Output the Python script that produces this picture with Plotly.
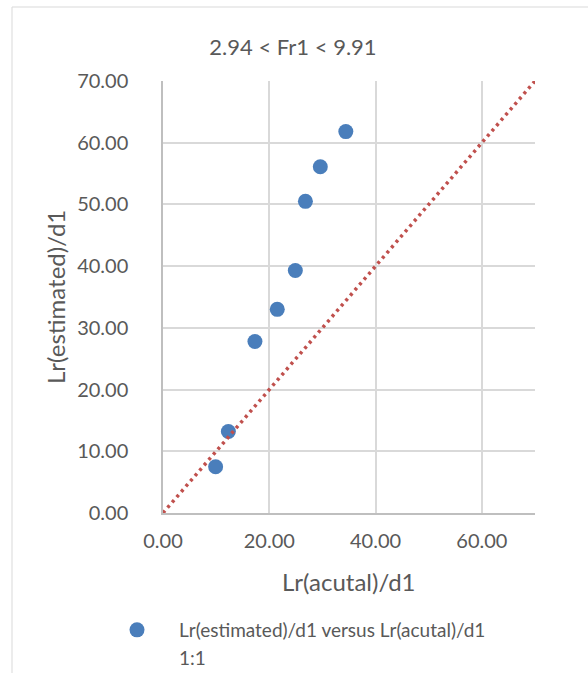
import plotly.graph_objects as go

# Measured vs. estimated roller length ratios
lr_actual = [34.4, 29.6, 26.8, 24.9, 21.5, 17.3, 12.3, 9.9]
lr_estimated = [61.8, 56.1, 50.5, 39.3, 33.0, 27.8, 13.2, 7.5]

# 1:1 reference line end points
ref_line = [0.0, 70.0]

x_ticks = [0, 20, 40, 60]
y_ticks = [0, 10, 20, 30, 40, 50, 60, 70]

FONT = "Lato, Calibri, 'Open Sans', sans-serif"
TEXT = "#595959"
GRID = "#d9d9d9"
AXIS = "#bfbfbf"

# plot area in pixels
PL, PR, PT, PB = 163, 535, 81, 513
PW, PH = PR - PL, PB - PT

fig = go.Figure()

fig.add_trace(go.Scatter(
    x=lr_actual, y=lr_estimated, mode="markers",
    name="Lr(estimated)/d1 versus Lr(acutal)/d1",
    marker=dict(color="#4a7ebb", size=15, line=dict(width=0)),
))

fig.add_trace(go.Scatter(
    x=ref_line, y=ref_line, mode="lines", showlegend=False,
    line=dict(color="#c0504d", width=3.5, dash="3px,4px"),
))

# legend entry for the 1:1 line (text only)
fig.add_trace(go.Scatter(
    x=[None], y=[None], mode="lines", name="1:1",
    line=dict(color="rgba(0,0,0,0)", width=0),
))

fig.update_layout(
    width=588, height=673,
    margin=dict(l=PL, r=588 - PR, t=PT, b=673 - PB, autoexpand=False),
    paper_bgcolor="white", plot_bgcolor="white",
    font=dict(family=FONT, color=TEXT, size=20),
    title=dict(text="2.94 < Fr1 < 9.91", x=293 / 588, xref="container",
               xanchor="center", y=1 - 47 / 673, yref="container",
               yanchor="middle", font=dict(size=22, color=TEXT)),
    showlegend=True,
    legend=dict(xref="container", yref="container", x=95 / 588,
                y=1 - 611 / 673, xanchor="left", yanchor="top",
                itemwidth=74, font=dict(size=19, color=TEXT),
                bgcolor="rgba(0,0,0,0)", tracegroupgap=0),
    xaxis=dict(range=[0, 70], tickvals=x_ticks, tickformat=".2f",
               showgrid=True, gridcolor=GRID, gridwidth=1.5,
               showline=True, linecolor=AXIS, linewidth=1.5,
               zeroline=False, ticks="outside", ticklen=9,
               tickcolor="rgba(0,0,0,0)", tickfont=dict(size=20)),
    yaxis=dict(range=[0, 70], tickvals=y_ticks, tickformat=".2f",
               showgrid=True, gridcolor=GRID, gridwidth=1.5,
               showline=True, linecolor=AXIS, linewidth=1.5,
               zeroline=False, ticks="outside", ticklen=29,
               tickcolor="rgba(0,0,0,0)", tickfont=dict(size=20)),
    annotations=[
        dict(text="Lr(acutal)/d1", xref="paper", yref="paper",
             x=0.5, y=(PB - 581) / PH, xanchor="center", yanchor="middle",
             showarrow=False, font=dict(size=24, color=TEXT)),
        dict(text="Lr(estimated)/d1", xref="paper", yref="paper",
             x=(55 - PL) / PW, y=0.5, xanchor="center", yanchor="middle",
             textangle=-90, showarrow=False,
             font=dict(size=24, color=TEXT)),
    ],
    shapes=[dict(type="rect", xref="paper", yref="paper",
                 x0=(12 - PL) / PW, x1=(640 - PL) / PW,
                 y0=(PB - 720) / PH, y1=(PB - 7) / PH,
                 line=dict(color=GRID, width=1), layer="below")],
)

fig.write_html("out.html")
